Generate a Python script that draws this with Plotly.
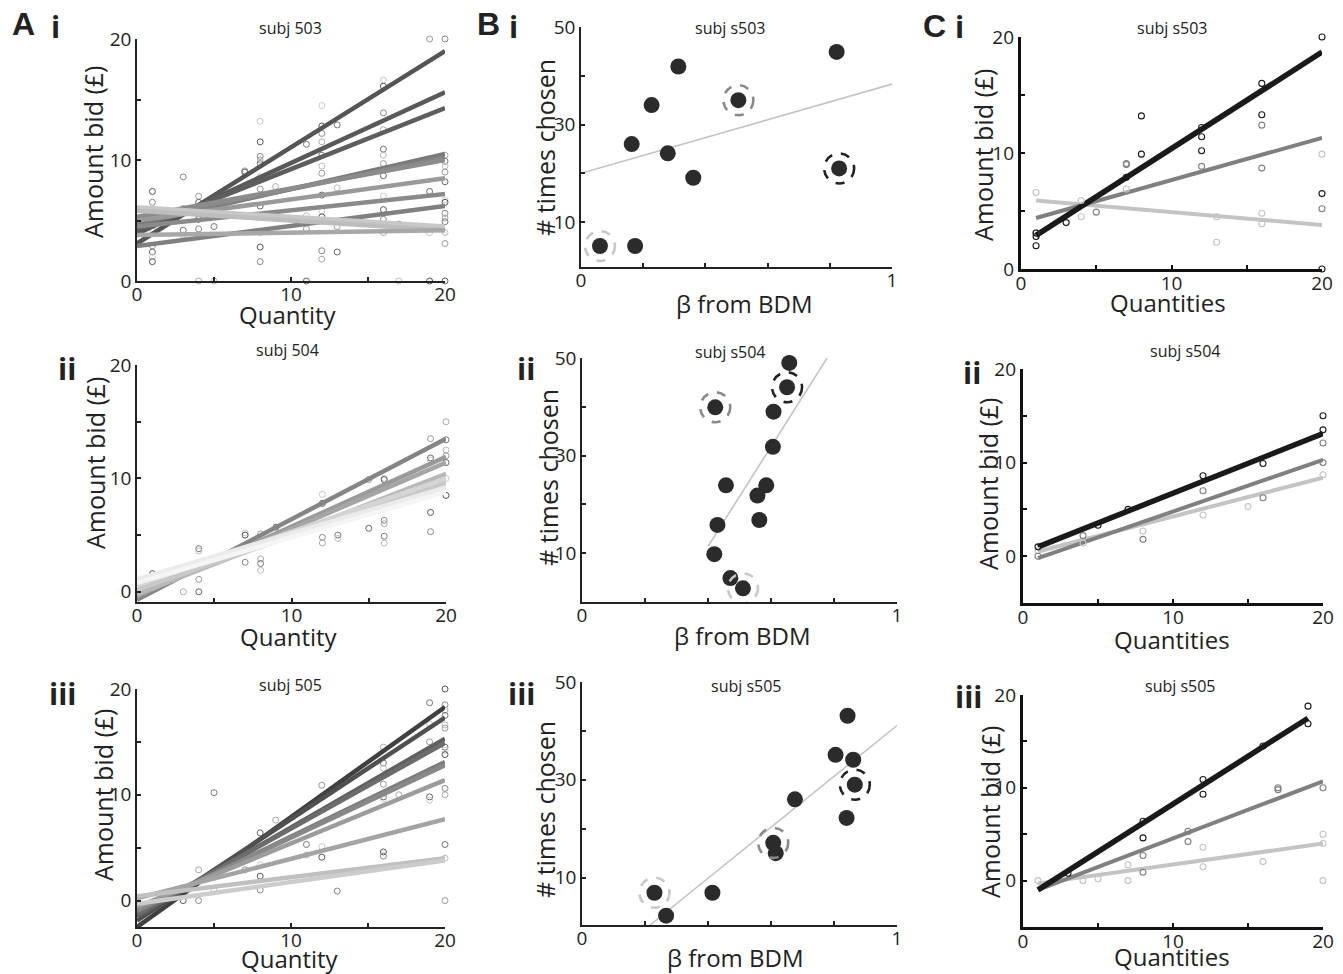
import plotly.graph_objects as go

W, H = 1343, 974

# ---------------- DATA ----------------
# Panel A: per-item regression lines (predicted bid at quantity 0 and 20)
A_line_x = [0, 20]
A1_y0 = [3.1, 3.9, 4.2, 4.7, 5.0, 5.3, 5.0, 4.5, 2.9, 6.1, 5.8, 3.8]
A1_y20 = [19.0, 15.6, 14.3, 10.5, 10.2, 10.0, 8.5, 7.2, 6.2, 4.5, 4.2, 4.2]
A2_y0 = [-0.7, -0.4, -0.3, -0.2, 0.2, 0.6, 1.1, 0.8]
A2_y20 = [13.5, 11.9, 11.4, 10.4, 9.6, 10.0, 9.2, 8.8]
A3_y0 = [-2.5, -1.9, -1.5, -1.3, -1.0, -0.9, -0.6, 0.2, 0.4, -0.3]
A3_y20 = [18.3, 17.3, 15.3, 14.9, 13.1, 12.8, 11.4, 7.7, 4.0, 3.8]

A1_px = [1, 1, 1, 1, 1, 1, 1, 1, 1, 3, 3, 3, 3, 4, 4, 4, 4, 4, 4, 5, 5, 7, 7,
         8, 8, 8, 8, 8, 8, 8, 8, 8, 8, 8, 9, 11, 11, 11, 11,
         12, 12, 12, 12, 12, 12, 12, 12, 12, 12, 12, 12, 13, 13, 13, 13,
         16, 16, 16, 16, 16, 16, 16, 16, 16, 16, 16, 16, 17, 17, 19, 19, 19, 19,
         20, 20, 20, 20, 20, 20, 20, 20, 20, 20, 20, 20, 20, 20]
A1_py = [7.4, 6.5, 5.6, 5.1, 4.2, 2.9, 2.4, 2.0, 1.6, 8.6, 6.0, 4.2, 3.8, 7.0, 6.5, 5.6, 5.1, 4.3, 0, 4.5, 0, 9.1, 9.0,
         13.2, 11.5, 10.3, 10.0, 9.7, 8.6, 7.6, 6.2, 4.0, 2.8, 1.6, 7.8, 11.3, 5.4, 4.3, 0,
         14.5, 12.8, 12.2, 11.5, 10.4, 9.5, 8.9, 7.1, 5.8, 5.3, 2.5, 1.8, 12.9, 7.7, 4.5, 2.4,
         16.6, 16.1, 13.9, 12.5, 10.9, 10.4, 9.7, 8.7, 7.0, 5.9, 5.1, 4.0, 4.7, 0, 20, 7.4, 4.0, 0,
         20, 10.4, 9.9, 9.5, 9.0, 8.2, 6.7, 6.5, 5.6, 5.2, 4.9, 4.0, 3.1, 0]

A2_px = [1, 1, 3, 4, 4, 4, 4, 7, 7, 7, 8, 8, 8, 8, 9, 12, 12, 12, 12, 13, 13, 15, 15,
         16, 16, 16, 16, 16, 16, 19, 19, 19, 19, 19, 20, 20, 20, 20, 20, 20, 20]
A2_py = [1.6, 1.1, 0.0, 3.8, 3.6, 1.1, 0.0, 5.2, 5.0, 2.6, 2.9, 2.5, 1.9, 5.1, 5.7, 8.6, 7.8, 4.8, 4.3, 5.0, 4.7, 9.9, 5.6,
         10.0, 9.9, 6.3, 6.0, 4.9, 4.3, 13.5, 11.8, 11.6, 7.0, 5.3, 15.0, 13.4, 12.5, 12.0, 11.4, 10.0, 8.5]

A3_px = [3, 4, 4, 5, 5, 7, 8, 8, 8, 8, 9, 11, 11, 12, 12, 12, 12, 13,
         16, 16, 16, 16, 16, 16, 16, 16, 17, 19, 19, 19, 19, 19,
         20, 20, 20, 20, 20, 20, 20, 20, 20, 20, 20, 20, 20, 20]
A3_py = [0, 0, 2.9, 10.2, 1.0, 2.9, 6.4, 3.4, 2.3, 1.0, 7.6, 5.3, 4.3, 10.9, 9.8, 5.1, 4.1, 0.9,
         14.5, 13.0, 12.5, 11.0, 9.8, 9.6, 4.6, 4.2, 10.0, 18.7, 16.7, 15.0, 9.8, 9.5,
         20, 18.5, 18.0, 17.5, 16.6, 16.3, 14.5, 14.2, 13.8, 10.6, 10.0, 5.3, 4.0, 0]

# Panel B: beta from BDM vs times chosen, fit line endpoints, ringed items (light, mid, dark)
B1_x = [0.061, 0.174, 0.163, 0.227, 0.313, 0.279, 0.361, 0.506, 0.822, 0.830]
B1_y = [5.1, 5.1, 26.0, 34.0, 41.9, 24.1, 19.1, 35.0, 44.9, 21.0]
B1_fit_x = [0.0, 1.0]
B1_fit_y = [20.0, 38.3]
B1_ring_x = [0.061, 0.506, 0.830]
B1_ring_y = [5.1, 35.0, 21.0]

B2_x = [0.658, 0.651, 0.423, 0.608, 0.606, 0.457, 0.585, 0.557, 0.563, 0.430, 0.420, 0.471, 0.511]
B2_y = [49.0, 44.0, 39.9, 39.0, 31.8, 23.9, 23.9, 21.8, 16.8, 15.8, 9.8, 4.9, 2.8]
B2_fit_x = [0.40, 0.778]
B2_fit_y = [11.4, 50.0]
B2_ring_x = [0.511, 0.423, 0.651]
B2_ring_y = [2.8, 39.9, 44.0]

B3_x = [0.843, 0.805, 0.861, 0.866, 0.676, 0.840, 0.607, 0.615, 0.414, 0.230, 0.267]
B3_y = [43.1, 35.1, 34.1, 29.0, 26.0, 22.2, 17.1, 15.0, 6.9, 6.9, 2.2]
B3_fit_x = [0.216, 1.0]
B3_fit_y = [0.3, 41.1]
B3_ring_x = [0.230, 0.607, 0.866]
B3_ring_y = [6.9, 17.1, 29.0]

# Panel C: three example items (high, mid, low beta)
C1_fit = {"dark": ([1, 20], [2.9, 18.7]), "mid": ([1, 20], [4.4, 11.3]), "light": ([1, 20], [5.9, 3.8])}
C1_pts = {
    "dark": ([1, 1, 1, 3, 7, 8, 8, 12, 12, 12, 16, 16, 20, 20, 20],
             [2.0, 2.8, 3.1, 4.0, 7.9, 13.2, 9.9, 12.2, 11.4, 10.2, 16.0, 13.3, 20.0, 6.5, 0]),
    "mid": ([1, 5, 7, 7, 12, 16, 16, 20], [3.1, 4.9, 9.1, 9.0, 8.85, 12.4, 8.7, 5.2]),
    "light": ([1, 4, 4, 7, 13, 13, 16, 16, 20], [6.6, 5.9, 4.5, 6.9, 4.5, 2.3, 4.8, 3.9, 9.9]),
}
C2_fit = {"dark": ([1, 20], [1.0, 13.1]), "mid": ([1, 20], [-0.2, 10.3]), "light": ([1, 20], [0.5, 8.4])}
C2_pts = {
    "dark": ([1, 5, 7, 12, 16, 20, 20], [1.0, 3.3, 5.0, 8.6, 9.9, 15.0, 13.5]),
    "mid": ([1, 4, 8, 12, 16, 20, 20], [0.0, 2.2, 1.8, 7.0, 6.25, 12.1, 10.0]),
    "light": ([1, 4, 8, 12, 15, 20], [0.6, 1.4, 2.7, 4.4, 5.3, 8.7]),
}
C3_fit = {"dark": ([1, 19], [-1.0, 17.5]), "mid": ([1, 20], [-1.0, 10.7]), "light": ([1, 20], [-0.3, 4.0])}
C3_pts = {
    "dark": ([3, 8, 8, 12, 12, 16, 19, 19], [0.8, 6.4, 4.6, 10.9, 9.3, 14.5, 18.8, 16.9]),
    "mid": ([8, 8, 11, 11, 17, 17, 20], [2.7, 0.9, 5.3, 4.2, 10.0, 9.8, 10.0]),
    "light": ([1, 4, 5, 7, 7, 12, 12, 16, 20, 20, 20], [0, 0, 0.2, 1.7, 0, 3.6, 1.5, 2.05, 5.0, 4.0, 0]),
}

titles_A = ["subj 503", "subj 504", "subj 505"]
titles_B = ["subj s503", "subj s504", "subj s505"]
titles_C = ["subj s503", "subj s504", "subj s505"]

# ---------------- STYLE ----------------
FONT = "Open Sans"
A1_colors = ["#555555", "#595959", "#5e5e5e", "#7a7a7a", "#858585", "#8c8c8c",
             "#9a9a9a", "#8a8a8a", "#808080", "#c8c8c8", "#bdbdbd", "#a8a8a8"]
A2_colors = ["#858585", "#9a9a9a", "#a5a5a5", "#b8b8b8", "#c8c8c8", "#d4d4d4", "#ebebeb", "#f5f5f5"]
A3_colors = ["#404040", "#505050", "#606060", "#6c6c6c", "#7c7c7c", "#888888",
             "#9c9c9c", "#a4a4a4", "#c0c0c0", "#cccccc"]
pt_palette = ["#555555", "#888888", "#aaaaaa", "#777777", "#bbbbbb", "#999999", "#666666", "#c8c8c8"]
C_colors = {"dark": "#1a1a1a", "mid": "#808080", "light": "#c4c4c4"}
C_widths = {"dark": 5.5, "mid": 4, "light": 4}
ring_colors = ["#c8c8c8", "#8a8a8a", "#222222"]

# panel pixel boxes: (left, right, top, bottom)
boxes = {
    1: (137, 445, 39, 281), 2: (137, 446, 365, 602), 3: (137, 445, 689, 927),
    4: (581, 892, 27, 267), 5: (582, 897, 358, 602), 6: (582, 897, 682, 925),
    7: (1021, 1322, 37, 269), 8: (1023, 1323, 369, 603), 9: (1023, 1323, 695, 927),
}
yranges = {1: [0, 20], 2: [-0.9, 20], 3: [-2.5, 20], 4: [0.8, 50], 5: [0, 50], 6: [0.3, 50],
           7: [0, 20], 8: [-5, 20], 9: [-5, 20]}

fig = go.Figure()
layout = dict(width=W, height=H, margin=dict(l=0, r=0, t=0, b=0, pad=0, autoexpand=False),
              autosize=False,
              paper_bgcolor="white", plot_bgcolor="white", showlegend=False,
              font=dict(family=FONT, color="#222222"))

for i, (l, r, t, b) in boxes.items():
    xs = "" if i == 1 else str(i)
    isB = i in (4, 5, 6)
    isC = i in (7, 8, 9)
    lw = 3.2 if isC else 1.6
    lc = "#111111" if isC else "#222222"
    if isB:
        xr = [0, 1]
        xt, xtt = [0, 0.2, 0.4, 0.6, 0.8, 1], ["0", "", "", "", "", "1"]
        yt, ytt = [10, 20, 30, 40, 50], ["10", "", "30", "", "50"]
    else:
        xr = [0, 20]
        xt, xtt = [0, 5, 10, 15, 20], ["0", "", "10", "", "20"]
        yt, ytt = [0, 5, 10, 15, 20], ["0", "", "10", "", "20"]
    layout["xaxis" + xs] = dict(domain=[l / W, r / W], range=xr, anchor="y" + xs, automargin=False,
                                showline=True, linecolor=lc, linewidth=lw, showgrid=False, zeroline=False,
                                ticks="inside", ticklen=4, tickwidth=1.5, tickcolor=lc,
                                ticklabelstandoff=-5,
                                tickvals=xt, ticktext=xtt, tickfont=dict(size=19, family=FONT, color="#222"),
                                fixedrange=True)
    layout["yaxis" + xs] = dict(domain=[1 - b / H, 1 - t / H], range=yranges[i], anchor="x" + xs,
                                automargin=False,
                                showline=True, linecolor=lc, linewidth=lw, showgrid=False, zeroline=False,
                                ticks="inside", ticklen=4, tickwidth=1.5, tickcolor=lc,
                                tickvals=yt, ticktext=ytt, tickfont=dict(size=19, family=FONT, color="#222"),
                                fixedrange=True)

def axn(i):
    return ("x" if i == 1 else "x%d" % i), ("y" if i == 1 else "y%d" % i)

# ---- Panel A traces ----
for i, (px, py, y0s, y20s, cols) in zip(
        (1, 2, 3),
        [(A1_px, A1_py, A1_y0, A1_y20, A1_colors),
         (A2_px, A2_py, A2_y0, A2_y20, A2_colors),
         (A3_px, A3_py, A3_y0, A3_y20, A3_colors)]):
    xa, ya = axn(i)
    pc = [pt_palette[k % len(pt_palette)] for k in range(len(px))]
    fig.add_trace(go.Scatter(x=px, y=py, mode="markers", xaxis=xa, yaxis=ya, cliponaxis=False,
                             marker=dict(symbol="circle-open", size=6, color=pc, line=dict(width=1, color=pc))))
    for y0, y20, c in zip(y0s, y20s, cols):
        fig.add_trace(go.Scatter(x=A_line_x, y=[y0, y20], mode="lines", xaxis=xa, yaxis=ya,
                                 cliponaxis=False, line=dict(color=c, width=4.5)))

# ---- Panel B traces ----
shapes = []
for i, (bx, by, fx, fy, rx, ry) in zip(
        (4, 5, 6),
        [(B1_x, B1_y, B1_fit_x, B1_fit_y, B1_ring_x, B1_ring_y),
         (B2_x, B2_y, B2_fit_x, B2_fit_y, B2_ring_x, B2_ring_y),
         (B3_x, B3_y, B3_fit_x, B3_fit_y, B3_ring_x, B3_ring_y)]):
    xa, ya = axn(i)
    fig.add_trace(go.Scatter(x=fx, y=fy, mode="lines", xaxis=xa, yaxis=ya, cliponaxis=False,
                             line=dict(color="#c4c4c4", width=1.6)))
    fig.add_trace(go.Scatter(x=bx, y=by, mode="markers", xaxis=xa, yaxis=ya, cliponaxis=False,
                             marker=dict(size=16, color="#2b2b2b", line=dict(width=0))))
    for cx, cy, cc in zip(rx, ry, ring_colors):
        shapes.append(dict(type="circle", xref=xa, yref=ya, xsizemode="pixel", ysizemode="pixel",
                           xanchor=cx, yanchor=cy, x0=-15, x1=15, y0=-15, y1=15,
                           line=dict(color=cc, width=2.6, dash="dash")))

# ---- Panel C traces ----
for i, (fits, pts) in zip((7, 8, 9), [(C1_fit, C1_pts), (C2_fit, C2_pts), (C3_fit, C3_pts)]):
    xa, ya = axn(i)
    for key in ("light", "mid", "dark"):
        fx, fy = fits[key]
        fig.add_trace(go.Scatter(x=fx, y=fy, mode="lines", xaxis=xa, yaxis=ya, cliponaxis=False,
                                 line=dict(color=C_colors[key], width=C_widths[key])))
    for key in ("light", "mid", "dark"):
        px, py = pts[key]
        fig.add_trace(go.Scatter(x=px, y=py, mode="markers", xaxis=xa, yaxis=ya, cliponaxis=False,
                                 marker=dict(symbol="circle-open", size=6, color=C_colors[key],
                                             line=dict(width=1.1, color=C_colors[key]))))

# ---- Annotations ----
ann = []
def txt(x, y, s, size, family=FONT, angle=0, color="#222222"):
    ann.append(dict(x=x / W, y=1 - y / H, xref="paper", yref="paper", text=s, showarrow=False,
                    xanchor="center", yanchor="middle", textangle=angle,
                    font=dict(size=size, family=family, color=color)))

# panel letters
for x, y, s in [(23, 24, "A"), (488, 24, "B"), (934, 26, "C")]:
    txt(x, y, "<b>%s</b>" % s, 32, family="Liberation Sans")
for x, y, s in [(55, 26, "i"), (67, 369, "ii"), (63, 693, "iii"),
                (513, 27, "i"), (526, 369, "ii"), (521, 693, "iii"),
                (959, 27, "i"), (972, 372, "ii"), (968, 696, "iii")]:
    txt(x, y, "<b>%s</b>" % s, 30)

# subplot titles
for (x, y), s in zip([(290, 28), (287, 350), (290, 685)], titles_A):
    txt(x, y, s, 16)
for (x, y), s in zip([(730, 28), (730, 352), (746, 686)], titles_B):
    txt(x, y, s, 16)
for (x, y), s in zip([(1172, 28), (1185, 351), (1180, 686)], titles_C):
    txt(x, y, s, 16)

# axis titles
for x, y in [(288, 315), (289, 636), (290, 958)]:
    txt(x, y, "Quantity", 24)
for x, y in [(744, 303), (742, 635), (735, 957)]:
    txt(x, y, "β from BDM", 24)
for x, y in [(1168, 302), (1172, 639), (1172, 956)]:
    txt(x, y, "Quantities", 24)
for x, y in [(93, 152), (95, 462), (103, 795)]:
    txt(x, y, "Amount bid (£)", 25, angle=-90)
for x, y in [(545, 148), (548, 478), (545, 810)]:
    txt(x, y, "# times chosen", 25, angle=-90)
for x, y in [(983, 155), (988, 483), (990, 812)]:
    txt(x, y, "Amount bid (£)", 25, angle=-90)

layout["annotations"] = ann
layout["shapes"] = shapes
fig.update_layout(**layout)
fig.write_html("out.html", config={"displayModeBar": False, "responsive": False},
               post_script="document.body.style.margin='0';document.body.style.padding='0';"
                           "document.body.style.overflow='hidden';")
